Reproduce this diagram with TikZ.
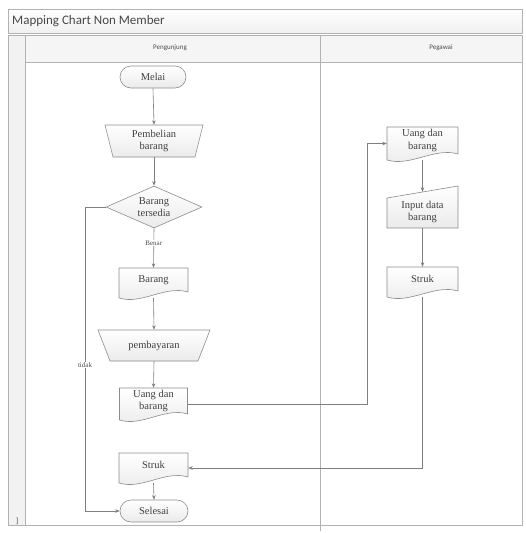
\documentclass[tikz,border=0pt]{standalone}
\usepackage{fontspec}
\setmainfont{Liberation Serif}
\newfontfamily\uifont{Carlito}
\usetikzlibrary{arrows.meta,shapes.geometric,calc}

\tikzset{
  frameline/.style={draw=black!30, line width=0.6pt},
  flow/.style={draw=black!45, line width=0.6pt, top color=white, bottom color=black!8},
  txt/.style={font=\fontsize{10.5}{12.5}\selectfont, text=black!75, align=center, inner sep=0pt},
  holder/.style={draw=none, inner sep=0pt},
  conn/.style={draw=black!50, line width=0.6pt, -{Stealth[length=4.5pt,width=3.5pt]}},
  tagtxt/.style={font=\fontsize{7}{8}\selectfont, text=black!70, fill=white, inner sep=0.8pt},
  terminal/.style={flow, txt, rectangle, rounded corners=11pt, minimum height=22pt},
  decision/.style={flow, txt, diamond, aspect=2.3, minimum width=96pt, minimum height=42pt}
}

% document shape: name, cx, cy, width, height, text
\newcommand{\docbox}[6]{%
  \path[flow] ({#2-#4/2},{#3-#5/2}) -- ({#2+#4/2},{#3-#5/2}) -- ({#2+#4/2},{#3+#5/2-6})
    .. controls ({#2+#4/6},{#3+#5/2-13}) and ({#2-#4/6},{#3+#5/2+7}) .. ({#2-#4/2},{#3+#5/2}) -- cycle;
  \node[holder, minimum width=#4, minimum height=#5] (#1) at (#2,#3) {};
  \node[txt] (#1-t) at ({#2},{#3-3}) {#6};
}
% manual input drawn wide at the top: name, cx, cy, width, height, inset, text
\newcommand{\manbox}[7]{%
  \path[flow] ({#2-#4/2},{#3-#5/2}) -- ({#2+#4/2},{#3-#5/2}) -- ({#2+#4/2-#6},{#3+#5/2})
    -- ({#2-#4/2+#6},{#3+#5/2}) -- cycle;
  \node[holder, minimum width=#4, minimum height=#5] (#1) at (#2,#3) {};
  \node[txt] (#1-t) at (#2,#3) {#7};
}

\begin{document}
\begin{tikzpicture}[x=1pt,y=-1pt]
\useasboundingbox (0,0) rectangle (525,533);

% swimlane frame
\path[frameline, top color=white, bottom color=black!6] (8,9) rectangle (522,33);
\node[anchor=west, font=\uifont\fontsize{13}{14}\selectfont, text=black!72, inner sep=0pt] (title) at (12,21) {Mapping Chart Non Member};
\path[frameline, fill=black!5] (8,35) rectangle (25,525);
\path[frameline] (25,62) rectangle (522,525);
\path[frameline, fill=black!4] (25,35) rectangle (320,62);
\path[frameline, fill=black!4] (320,35) rectangle (522,62);
\draw[frameline] (320,62) -- (320,531);
\node[font=\uifont\fontsize{7}{8}\selectfont, text=black!70] (lane1) at (170,48) {Pengunjung};
\node[font=\uifont\fontsize{7}{8}\selectfont, text=black!70] (lane2) at (441,48) {Pegawai};
\node[font=\fontsize{8}{9}\selectfont, text=black!70] (mark) at (17,521) {]};

% Pengunjung lane
\node[terminal, minimum width=66pt] (start) at (153,77) {Melai};
\manbox{buy}{154}{141}{98}{32}{8}{Pembelian\\barang}
\node[decision] (dec) at (154,207) {Barang\\tersedia};
\docbox{barang}{153.5}{283}{69}{30}{Barang}
\manbox{pay}{154}{345.5}{112}{31}{12}{pembayaran}
\docbox{uang1}{153.5}{404}{68}{32}{Uang dan\\barang}
\docbox{struk1}{153.5}{468}{69}{30}{Struk}
\node[terminal, minimum width=68pt] (finish) at (154,511) {Selesai};

% Pegawai lane
\docbox{uang2}{422.5}{143.5}{71}{33}{Uang dan\\barang}
\path[flow] (387,198) -- (458,186) -- (458,228) -- (387,228) -- cycle;
\node[holder, minimum width=71pt, minimum height=36pt] (inp) at (422.5,210) {};
\node[txt] (inp-t) at (422.5,212) {Input data\\barang};
\docbox{struk2}{422.5}{282}{71}{30}{Struk}

% connectors
\coordinate (bendA) at (367,0);
\coordinate (bendB) at (85,0);
\draw[conn] (start.south) -- (buy.north);
\draw[conn] (buy.south) -- (dec.north);
\draw[conn] (dec.south) -- node[tagtxt, pos=0.38] (yes) {Benar} (barang.north);
\draw[conn] (barang.south) -- (pay.north);
\draw[conn] (pay.south) -- (uang1.north);
\draw[conn] (uang1.east) -- (uang1.east -| bendA) |- (uang2.west);
\draw[conn] (uang2.south) -- (inp.north);
\draw[conn] (inp.south) -- (struk2.north);
\draw[conn] (struk2.south) |- (struk1.east);
\draw[conn] (struk1.south) -- (finish.north);
\draw[conn] (dec.west) -- (dec.west -| bendB) |- node[tagtxt, pos=0.26] (no) {tidak} (finish.west);
\end{tikzpicture}
\end{document}
